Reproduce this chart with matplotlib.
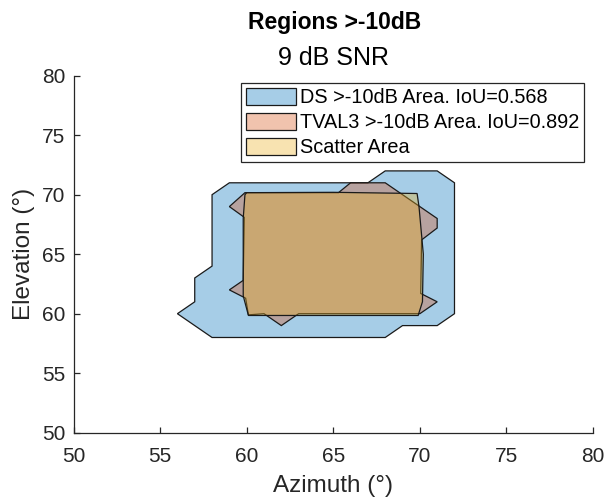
import matplotlib
matplotlib.use("Agg")
import matplotlib.pyplot as plt
from matplotlib.patches import Polygon

plt.rcParams['font.family'] = ['Liberation Sans', 'DejaVu Sans']

# DS >-10dB region outline (azimuth, elevation in degrees)
ds_az = [58, 59, 67, 68, 71, 72, 72, 71, 69, 68, 58, 56, 57, 57, 58]
ds_el = [70, 71, 71, 72, 72, 71, 60, 59, 59, 58, 58, 60, 61, 63, 64]

# TVAL3 >-10dB region outline
tv_az = [59, 59.9, 65.3, 66, 68, 71, 71, 70.1, 70.05, 71, 70, 63, 62, 61, 60.1, 59.94, 59, 59.8, 59.86]
tv_el = [69, 70.17, 70.17, 71, 71, 68, 67.2, 66.2, 61.7, 61, 60, 60, 59, 60, 59.9, 61.3, 62, 62.8, 68.1]

# scatter area outline
sc_az = [60.0, 65.0, 69.84, 69.95, 70.2, 70.15, 69.9, 60.1, 59.8, 59.8, 59.9]
sc_el = [70.17, 70.2, 70.1, 69.0, 65.0, 61.0, 59.85, 59.85, 61.5, 68.0, 70.0]

labels = ['DS >-10dB Area. IoU=0.568',
          'TVAL3 >-10dB Area. IoU=0.892',
          'Scatter Area']
colors = [(0, 0.447, 0.741), (0.85, 0.325, 0.098), (0.929, 0.694, 0.125)]

fig = plt.figure(figsize=(6.07, 5.04), dpi=100)
ax = fig.add_axes([0.1211, 0.1415, 0.8559, 0.7083])

# polygons drawn in legend order, semi transparent faces
for az, el, c, lab in zip([ds_az, tv_az, sc_az], [ds_el, tv_el, sc_el], colors, labels):
    pts = list(zip(az, el))
    ax.add_patch(Polygon(pts, closed=True, facecolor=(*c, 0.35),
                         edgecolor='#1a1a1a', linewidth=0.9, label=lab))

ax.set_xlim(50, 80)
ax.set_ylim(50, 80)
ax.set_xticks(range(50, 81, 5))
ax.set_yticks(range(50, 81, 5))
ax.spines['top'].set_visible(False)
ax.spines['right'].set_visible(False)
for s in ['left', 'bottom']:
    ax.spines[s].set_color('#262626')
    ax.spines[s].set_linewidth(0.9)
ax.tick_params(direction='in', length=4, width=0.9, colors='#262626',
               labelsize=15)
ax.tick_params(axis='x', pad=10)
ax.tick_params(axis='y', pad=6)

ax.set_xlabel('Azimuth (°)', fontsize=17.5, color='#262626', labelpad=7)
ax.set_ylabel('Elevation (°)', fontsize=17.5, color='#262626', labelpad=5)

fig.text(0.551, 1 - 29.3 / 504, 'Regions >-10dB', ha='center', va='baseline',
         fontsize=16.5, fontweight='bold', color='black')
fig.text(0.549, 1 - 65 / 504, '9 dB SNR', ha='center', va='baseline',
         fontsize=18, color='black')

leg = ax.legend(loc='upper right', bbox_to_anchor=(584 / 607, 1 - 83 / 504),
                bbox_transform=fig.transFigure, borderaxespad=0,
                fontsize=14.3, handlelength=2.5, handleheight=0.93,
                handletextpad=0.2, labelspacing=0.28, borderpad=0.25,
                fancybox=False, framealpha=1, edgecolor='#262626')
leg.get_frame().set_linewidth(0.9)

fig.savefig('out.png', dpi=100)
